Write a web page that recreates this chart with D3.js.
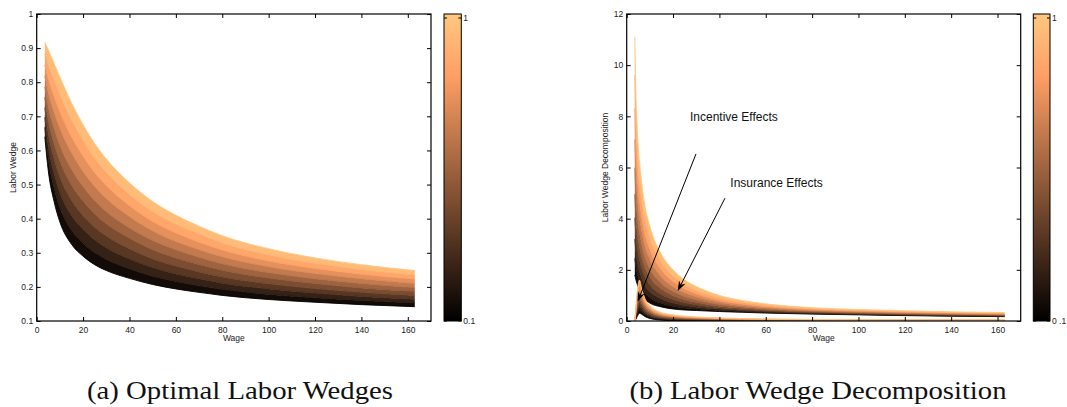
<!DOCTYPE html>
<html><head><meta charset="utf-8">
<script src="https://cdn.jsdelivr.net/npm/d3@7"></script>
<style>body{margin:0;background:#fff}svg{display:block}</style>
</head><body>
<svg id="c" width="1067" height="407"></svg>
<script>
// ---------------- DATA ----------------
const tLevels = [0.1, 0.2, 0.3, 0.4, 0.5, 0.6, 0.7, 0.8, 0.9, 1.0];

// (a) Optimal labor wedges
const wageWedge = [3.5, 5, 7.5, 10, 15, 20, 25, 30, 40, 50, 60, 70, 80, 100, 120, 140, 163];
const wedgeCurves = [
  [0.640, 0.540, 0.450, 0.390, 0.325, 0.290, 0.265, 0.248, 0.225, 0.207, 0.194, 0.184, 0.175, 0.163, 0.155, 0.148, 0.142],
  [0.668, 0.576, 0.491, 0.433, 0.367, 0.329, 0.301, 0.281, 0.253, 0.231, 0.216, 0.203, 0.193, 0.178, 0.168, 0.160, 0.153],
  [0.697, 0.613, 0.533, 0.477, 0.410, 0.369, 0.338, 0.315, 0.282, 0.257, 0.238, 0.224, 0.211, 0.194, 0.182, 0.172, 0.164],
  [0.726, 0.650, 0.576, 0.522, 0.454, 0.409, 0.375, 0.349, 0.312, 0.282, 0.261, 0.244, 0.229, 0.209, 0.195, 0.184, 0.175],
  [0.756, 0.689, 0.620, 0.569, 0.499, 0.452, 0.414, 0.385, 0.343, 0.309, 0.285, 0.266, 0.249, 0.226, 0.210, 0.197, 0.187],
  [0.787, 0.728, 0.665, 0.615, 0.545, 0.494, 0.453, 0.421, 0.373, 0.336, 0.309, 0.287, 0.268, 0.242, 0.224, 0.210, 0.198],
  [0.819, 0.769, 0.711, 0.664, 0.593, 0.538, 0.494, 0.459, 0.406, 0.364, 0.333, 0.309, 0.288, 0.259, 0.239, 0.224, 0.210],
  [0.851, 0.810, 0.758, 0.713, 0.640, 0.583, 0.535, 0.497, 0.438, 0.392, 0.358, 0.331, 0.308, 0.276, 0.254, 0.237, 0.223],
  [0.884, 0.852, 0.806, 0.764, 0.690, 0.629, 0.577, 0.536, 0.471, 0.421, 0.384, 0.355, 0.329, 0.294, 0.269, 0.251, 0.235],
  [0.917, 0.895, 0.855, 0.815, 0.740, 0.675, 0.620, 0.575, 0.505, 0.450, 0.410, 0.378, 0.350, 0.312, 0.285, 0.265, 0.248]
];

// (b) Decomposition: insurance effects
const wageInsurance = [3.5, 4, 4.5, 5, 6, 7.5, 10, 15, 20, 25, 30, 40, 50, 60, 80, 100, 120, 140, 163];
const insuranceCurves = [
  [1.80, 1.60, 1.45, 1.32, 1.10, 0.88, 0.70, 0.55, 0.47, 0.43, 0.41, 0.370, 0.340, 0.310, 0.270, 0.240, 0.210, 0.190, 0.170],
  [2.45, 2.10, 1.88, 1.70, 1.43, 1.15, 0.91, 0.69, 0.58, 0.51, 0.48, 0.410, 0.370, 0.335, 0.288, 0.255, 0.223, 0.202, 0.181],
  [3.20, 2.68, 2.37, 2.14, 1.81, 1.45, 1.15, 0.86, 0.70, 0.61, 0.55, 0.465, 0.409, 0.364, 0.308, 0.272, 0.239, 0.216, 0.194],
  [4.03, 3.33, 2.93, 2.64, 2.23, 1.80, 1.42, 1.04, 0.84, 0.71, 0.64, 0.520, 0.450, 0.396, 0.330, 0.290, 0.256, 0.231, 0.208],
  [4.96, 4.05, 3.54, 3.18, 2.70, 2.18, 1.72, 1.25, 0.99, 0.83, 0.73, 0.580, 0.500, 0.432, 0.355, 0.311, 0.275, 0.248, 0.224],
  [5.99, 4.84, 4.22, 3.79, 3.22, 2.60, 2.05, 1.47, 1.16, 0.96, 0.83, 0.650, 0.550, 0.472, 0.383, 0.335, 0.296, 0.267, 0.242],
  [7.10, 5.70, 4.96, 4.44, 3.78, 3.06, 2.41, 1.72, 1.34, 1.10, 0.95, 0.730, 0.600, 0.515, 0.413, 0.360, 0.318, 0.287, 0.261],
  [8.31, 6.64, 5.76, 5.16, 4.39, 3.55, 2.80, 1.99, 1.54, 1.25, 1.07, 0.810, 0.660, 0.562, 0.445, 0.387, 0.343, 0.309, 0.282],
  [9.61, 7.65, 6.62, 5.92, 5.05, 4.09, 3.22, 2.27, 1.76, 1.41, 1.20, 0.900, 0.730, 0.612, 0.480, 0.416, 0.370, 0.333, 0.304],
  [11.10, 8.80, 7.60, 6.80, 5.80, 4.70, 3.70, 2.60, 2.00, 1.60, 1.35, 1.000, 0.800, 0.670, 0.520, 0.450, 0.400, 0.360, 0.330]
];

// (b) Decomposition: incentive effects
const wageIncentive = [3.5, 4, 4.5, 5, 5.5, 6.5, 8, 10, 14, 20, 30, 40, 60, 80, 100, 120, 140, 163];
const incentiveCurves = [
  [0, 0.080, 0.170, 0.250, 0.300, 0.260, 0.170, 0.100, 0.040, 0.015, 0.005, 0.000, 0.000, 0.000, 0.000, 0.000, 0.000, 0.000],
  [0, 0.132, 0.272, 0.382, 0.443, 0.369, 0.245, 0.155, 0.075, 0.040, 0.022, 0.013, 0.009, 0.007, 0.006, 0.006, 0.005, 0.004],
  [0, 0.183, 0.375, 0.514, 0.586, 0.478, 0.320, 0.210, 0.110, 0.065, 0.039, 0.026, 0.018, 0.013, 0.011, 0.011, 0.010, 0.009],
  [0, 0.235, 0.477, 0.646, 0.729, 0.587, 0.394, 0.265, 0.146, 0.089, 0.056, 0.040, 0.026, 0.020, 0.017, 0.017, 0.015, 0.013],
  [0, 0.287, 0.579, 0.778, 0.872, 0.696, 0.469, 0.320, 0.181, 0.114, 0.073, 0.053, 0.035, 0.026, 0.022, 0.022, 0.020, 0.018],
  [0, 0.343, 0.691, 0.922, 1.028, 0.814, 0.551, 0.380, 0.219, 0.141, 0.092, 0.067, 0.045, 0.034, 0.028, 0.028, 0.025, 0.022],
  [0, 0.395, 0.793, 1.054, 1.171, 0.923, 0.626, 0.435, 0.254, 0.166, 0.109, 0.080, 0.054, 0.040, 0.034, 0.034, 0.030, 0.027],
  [0, 0.447, 0.895, 1.186, 1.314, 1.032, 0.700, 0.490, 0.290, 0.190, 0.126, 0.094, 0.062, 0.047, 0.039, 0.039, 0.035, 0.031],
  [0, 0.498, 0.998, 1.318, 1.457, 1.141, 0.775, 0.545, 0.325, 0.215, 0.143, 0.107, 0.071, 0.053, 0.045, 0.045, 0.040, 0.036],
  [0, 0.550, 1.100, 1.450, 1.600, 1.250, 0.850, 0.600, 0.360, 0.240, 0.160, 0.120, 0.080, 0.060, 0.050, 0.050, 0.045, 0.040]
];

const xTicks = [0, 20, 40, 60, 80, 100, 120, 140, 160];
const yTicksWedge = [0.1, 0.2, 0.3, 0.4, 0.5, 0.6, 0.7, 0.8, 0.9, 1];
const yTicksDecomp = [0, 2, 4, 6, 8, 10, 12];
const cbTicks = [0.1, 1];
const cbLabelsA = ["0.1", "1"];
const cbLabelsB = ["0 .1", "1"];
const annotations = [
  {text: "Incentive Effects", tx: 27.3, ty: 7.83, x0: 29.9, y0: 6.53, x1: 4.7, y1: 0.75},
  {text: "Insurance Effects", tx: 44.7, ty: 5.25, x0: 42.4, y0: 4.8, x1: 22.0, y1: 1.17}
];
const captions = ["(a) Optimal Labor Wedges", "(b) Labor Wedge Decomposition"];

// ---------------- DRAWING ----------------
const svg = d3.select("#c");
const FONT = "'Liberation Sans', Arial, Helvetica, sans-serif";
const SERIF = "'Liberation Serif', 'DejaVu Serif', serif";
const TOP = 14, BOT = 321;

function copper(t) {
  const c = Math.max(0, Math.min(1, (t - 0.1) / 0.9));
  return d3.rgb(Math.min(1, 1.25 * c) * 255, 0.7812 * c * 255, 0.4975 * c * 255).formatHex();
}

const defs = svg.append("defs");
const grad = defs.append("linearGradient").attr("id", "copperGrad")
  .attr("x1", 0).attr("y1", 1).attr("x2", 0).attr("y2", 0);
[[0, 0.1], [0.8, 0.1 + 0.8 * 0.9], [1, 1]].forEach(([o, t]) =>
  grad.append("stop").attr("offset", o).attr("stop-color", copper(t)));

function panel(cfg) {
  const g = svg.append("g");
  const x = d3.scaleLinear().domain([0, 170]).range([cfg.x0, cfg.x1]);
  const y = d3.scaleLinear().domain(cfg.yDomain).range([BOT, TOP]);
  defs.append("clipPath").attr("id", cfg.id).append("rect")
    .attr("x", cfg.x0).attr("y", TOP).attr("width", cfg.x1 - cfg.x0).attr("height", BOT - TOP);
  const plot = g.append("g").attr("clip-path", `url(#${cfg.id})`);

  cfg.families.forEach(fam => {
    const fg = plot.append("g");
    for (let i = 0; i < fam.curves.length - 1; i++) {
      const a = fam.curves[i], b = fam.curves[i + 1];
      const area = d3.area()
        .x((d, j) => x(fam.wage[j]))
        .y0((d, j) => y(a[j]))
        .y1((d, j) => y(b[j]))
        .curve(d3.curveMonotoneX);
      fg.append("path").attr("d", area(fam.wage))
        .attr("fill", copper((tLevels[i] + tLevels[i + 1]) / 2));
    }
    const line = d3.line().x((d, j) => x(fam.wage[j])).y(d => y(d)).curve(d3.curveMonotoneX);
    fam.curves.forEach((c, i) => {
      fg.append("path").attr("d", line(c)).attr("fill", "none")
        .attr("stroke", copper(tLevels[i])).attr("stroke-width", 0.9);
    });
  });

  // axes with inside ticks
  const styleAxis = sel => {
    sel.attr("font-family", FONT).attr("font-size", 8.5);
    sel.select(".domain").remove();
    sel.selectAll("text").attr("fill", "#222");
    sel.selectAll("line").attr("stroke", "#000");
  };
  g.append("g").attr("transform", `translate(0,${BOT})`)
    .call(d3.axisBottom(x).tickValues(xTicks).tickSize(-4).tickPadding(5.5).tickFormat(d3.format("d"))).call(styleAxis);
  g.append("g").attr("transform", `translate(0,${TOP})`)
    .call(d3.axisTop(x).tickValues(xTicks).tickSize(-4).tickFormat("")).call(styleAxis);
  g.append("g").attr("transform", `translate(${cfg.x0},0)`)
    .call(d3.axisLeft(y).tickValues(cfg.yTicks).tickSize(-4).tickPadding(3.5).tickFormat(d3.format("~g"))).call(styleAxis);
  g.append("g").attr("transform", `translate(${cfg.x1},0)`)
    .call(d3.axisRight(y).tickValues(cfg.yTicks).tickSize(-4).tickFormat("")).call(styleAxis);

  g.append("rect").attr("x", cfg.x0).attr("y", TOP).attr("width", cfg.x1 - cfg.x0).attr("height", BOT - TOP)
    .attr("fill", "none").attr("stroke", "#000").attr("stroke-width", 1.2);

  g.append("text").attr("x", (cfg.x0 + cfg.x1) / 2).attr("y", 341)
    .attr("text-anchor", "middle").attr("font-family", FONT).attr("font-size", 8.5).attr("fill", "#222")
    .text("Wage");
  g.append("text").attr("transform", `translate(${cfg.ylabX},${(TOP + BOT) / 2}) rotate(-90)`)
    .attr("text-anchor", "middle").attr("font-family", FONT).attr("font-size", 8.5).attr("fill", "#222")
    .text(cfg.yLabel);

  // colorbar
  const cb = svg.append("g");
  const cy = d3.scaleLinear().domain([0.1, 1]).range([BOT, 18]);
  cb.append("rect").attr("x", cfg.cbx0).attr("y", TOP).attr("width", cfg.cbx1 - cfg.cbx0).attr("height", BOT - TOP)
    .attr("fill", "url(#copperGrad)").attr("stroke", "#000").attr("stroke-width", 1);
  cbTicks.forEach((v, i) => {
    cb.append("line").attr("x1", cfg.cbx0).attr("x2", cfg.cbx0 + 3).attr("y1", cy(v)).attr("y2", cy(v)).attr("stroke", "#000");
    cb.append("line").attr("x1", cfg.cbx1 - 3).attr("x2", cfg.cbx1).attr("y1", cy(v)).attr("y2", cy(v)).attr("stroke", "#000");
    cb.append("text").attr("x", cfg.cbx1 + 2).attr("y", cy(v)).attr("dy", "0.35em")
      .attr("font-family", FONT).attr("font-size", 8.5).attr("fill", "#222").text(cfg.cbLabels[i]);
  });

  // annotations
  (cfg.annotations || []).forEach(a => {
    g.append("text").attr("x", x(a.tx)).attr("y", y(a.ty)).attr("font-family", FONT)
      .attr("font-size", 12).attr("fill", "#111").text(a.text);
    const sx = x(a.x0), sy = y(a.y0), ex = x(a.x1), ey = y(a.y1);
    const len = Math.hypot(ex - sx, ey - sy), ux = (ex - sx) / len, uy = (ey - sy) / len;
    const nx = -uy, ny = ux, L = 10, W = 3.6, N = 7;
    g.append("line").attr("x1", sx).attr("y1", sy).attr("x2", ex - N * ux).attr("y2", ey - N * uy)
      .attr("stroke", "#000").attr("stroke-width", 1);
    g.append("path").attr("d",
      `M${ex},${ey}L${ex - L * ux + W * nx},${ey - L * uy + W * ny}L${ex - N * ux},${ey - N * uy}L${ex - L * ux - W * nx},${ey - L * uy - W * ny}Z`)
      .attr("fill", "#000");
  });
}

panel({
  id: "clipA", x0: 36.7, x1: 431, yDomain: [0.1, 1], yTicks: yTicksWedge, yLabel: "Labor Wedge", ylabX: 15.5,
  families: [{wage: wageWedge, curves: wedgeCurves}],
  cbx0: 444, cbx1: 461.3, cbLabels: cbLabelsA
});
panel({
  id: "clipB", x0: 626.7, x1: 1020.7, yDomain: [0, 12], yTicks: yTicksDecomp, yLabel: "Labor Wedge Decomposition", ylabX: 607.5,
  families: [{wage: wageInsurance, curves: insuranceCurves}, {wage: wageIncentive, curves: incentiveCurves}],
  cbx0: 1033.3, cbx1: 1050, cbLabels: cbLabelsB, annotations: annotations
});

// captions
[[240, 306], [818, 377]].forEach(([cx, w], i) => {
  svg.append("text").attr("x", cx).attr("y", 399).attr("text-anchor", "middle")
    .attr("font-family", SERIF).attr("font-size", 26).attr("fill", "#111")
    .attr("textLength", w).attr("lengthAdjust", "spacingAndGlyphs")
    .text(captions[i]);
});
</script>
</body></html>
